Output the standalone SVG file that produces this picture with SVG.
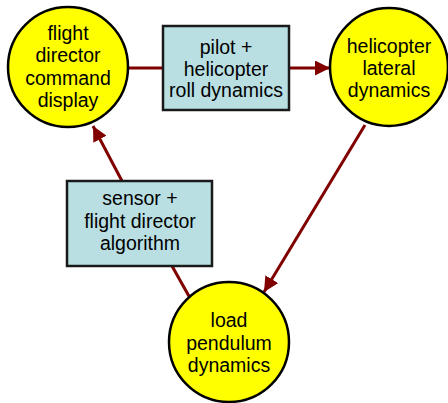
<svg xmlns="http://www.w3.org/2000/svg" width="448" height="403" viewBox="0 0 448 403">
<style>
.c{fill:#ffff00;stroke:#000;stroke-width:2.5}
.b{fill:#b9dfe3;stroke:#1a1a1a;stroke-width:2.5}
.t{font-family:"Liberation Sans",Arial,sans-serif;font-size:19.5px;fill:#000;text-anchor:middle}
.e{stroke:#800000;stroke-width:3;fill:none}
</style>
<defs>
<marker id="ah" viewBox="0 0 10 10" refX="10" refY="5" markerWidth="5" markerHeight="5" markerUnits="strokeWidth" orient="auto">
<path d="M0,0 L10,5 L0,10 z" fill="#800000"/>
</marker>
</defs>
<g id="connectors">
<line class="e" x1="128" y1="68" x2="163" y2="68"/>
<line class="e" x1="289" y1="68" x2="330" y2="68" marker-end="url(#ah)"/>
<line class="e" x1="365" y1="125" x2="264" y2="292" marker-end="url(#ah)"/>
<line class="e" x1="190" y1="298" x2="172" y2="266"/>
<line class="e" x1="122" y1="181" x2="93" y2="126" marker-end="url(#ah)"/>
</g>
<g id="n1">
<circle class="c" cx="68" cy="67" r="60"/>
<text class="t" x="68" y="40">flight</text>
<text class="t" x="68" y="62">director</text>
<text class="t" x="68" y="85">command</text>
<text class="t" x="68" y="107">display</text>
</g>
<g id="n2">
<rect class="b" x="163" y="26" width="126" height="84"/>
<text class="t" x="226" y="54">pilot +</text>
<text class="t" x="226" y="76">helicopter</text>
<text class="t" x="226" y="97">roll dynamics</text>
</g>
<g id="n3">
<circle class="c" cx="389" cy="67" r="59"/>
<text class="t" x="389" y="53">helicopter</text>
<text class="t" x="389" y="75">lateral</text>
<text class="t" x="389" y="97">dynamics</text>
</g>
<g id="n4">
<rect class="b" x="67" y="181" width="145" height="85"/>
<text class="t" x="140" y="205">sensor +</text>
<text class="t" x="140" y="228">flight director</text>
<text class="t" x="140" y="250">algorithm</text>
</g>
<g id="n5">
<circle class="c" cx="229" cy="342" r="60"/>
<text class="t" x="229" y="327">load</text>
<text class="t" x="229" y="350">pendulum</text>
<text class="t" x="229" y="372">dynamics</text>
</g>
</svg>
